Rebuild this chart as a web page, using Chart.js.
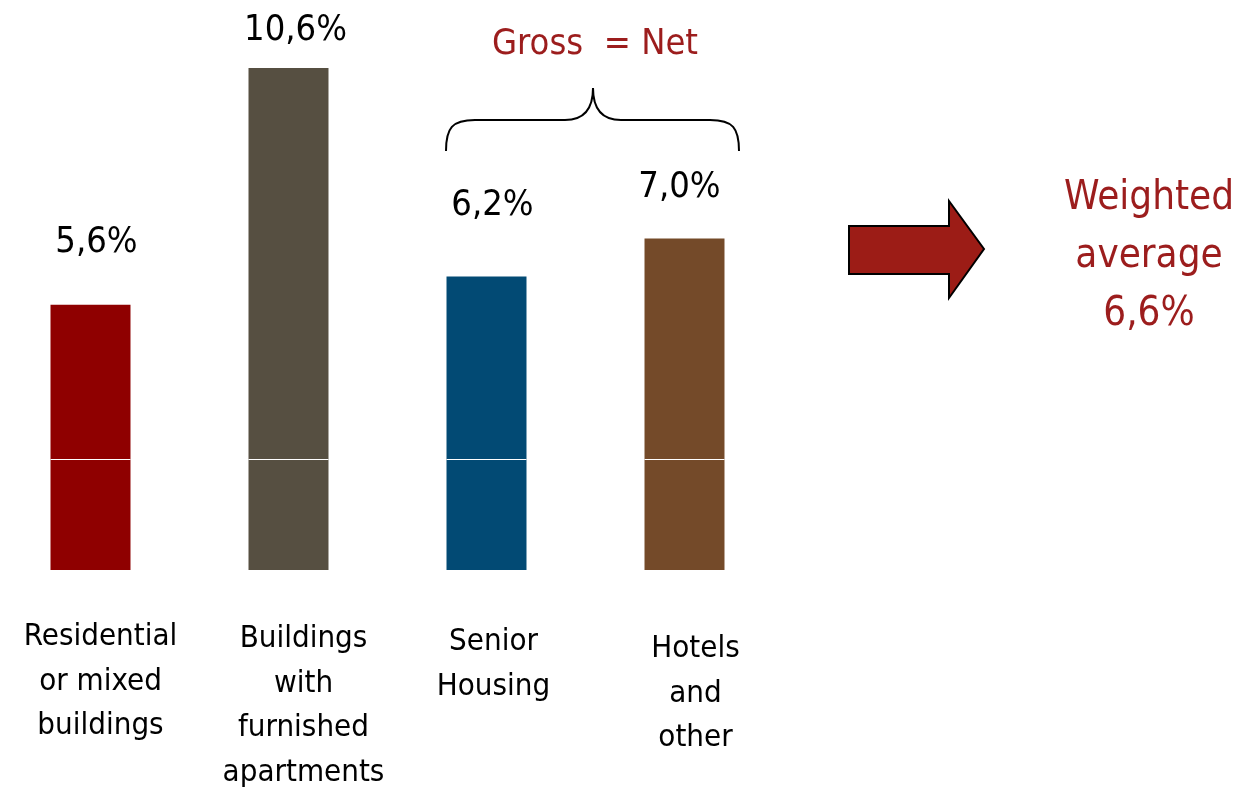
<!DOCTYPE html>
<html>
<head>
<meta charset="utf-8">
<script src="https://cdn.jsdelivr.net/npm/chart.js"></script>
<style>
  html, body { margin: 0; padding: 0; background: #fff; }
  #wrap { position: relative; width: 1249px; height: 790px; }
</style>
</head>
<body>
<div id="wrap"><canvas id="returnsChart"></canvas></div>
<script>
// categories and values
const categories = [
    ['Residential', 'or mixed', 'buildings'],
    ['Buildings', 'with', 'furnished', 'apartments'],
    ['Senior', 'Housing'],
    ['Hotels', 'and', 'other']
];
const yields = [5.6, 10.6, 6.2, 7.0];
const barColors = ['#8f0000', '#564f41', '#024a74', '#744a29'];
const averageLines = ['Weighted', 'average', '6,6%'];
const bracketText = 'Gross  = Net';
const breakValue = 2.35;

const RED = '#9c1d1d';
const FONT = '"DejaVu Sans Condensed", "DejaVu Sans"';
const fmt = v => v.toFixed(1).replace('.', ',') + '%';

// value labels, category names and the white break line on the bars
const barExtras = {
    id: 'barExtras',
    afterDatasetsDraw(chart, args, opts) {
        const ctx = chart.ctx;
        const meta = chart.getDatasetMeta(0);
        const yScale = chart.scales.y;
        const yb = Math.round(yScale.getPixelForValue(breakValue));
        const base = yScale.getPixelForValue(0);
        ctx.save();
        ctx.textAlign = 'center';
        meta.data.forEach((bar, i) => {
            const w = bar.width;
            ctx.fillStyle = '#fff';
            ctx.fillRect(bar.x - w / 2, yb, w, 1);

            ctx.fillStyle = '#000';
            ctx.font = '36px ' + FONT;
            ctx.textBaseline = 'middle';
            ctx.fillText(fmt(yields[i]), bar.x + opts.dx[i], bar.y - opts.lift[i]);

            ctx.font = '31px ' + FONT;
            ctx.textBaseline = 'alphabetic';
            categories[i].forEach((line, j) => {
                ctx.fillText(line, bar.x + opts.catDx[i], base + opts.catDrop[i] + j * 44.5);
            });
        });
        ctx.restore();
    }
};

// brace, arrow and the weighted average note
const annotations = {
    id: 'annotations',
    afterDraw(chart) {
        const ctx = chart.ctx;
        ctx.save();
        // brace over the last two bars
        ctx.strokeStyle = '#000';
        ctx.lineWidth = 2;
        ctx.beginPath();
        ctx.moveTo(446, 151);
        ctx.bezierCurveTo(446, 128, 452, 120, 475, 120);
        ctx.lineTo(565, 120);
        ctx.bezierCurveTo(585, 120, 593, 108, 593, 88);
        ctx.bezierCurveTo(593, 108, 601, 120, 621, 120);
        ctx.lineTo(710, 120);
        ctx.bezierCurveTo(733, 120, 739, 128, 739, 151);
        ctx.stroke();

        ctx.fillStyle = RED;
        ctx.font = '36px ' + FONT;
        ctx.textAlign = 'center';
        ctx.textBaseline = 'middle';
        ctx.fillText(bracketText, 595, 45);

        // arrow
        ctx.beginPath();
        ctx.moveTo(849, 226);
        ctx.lineTo(949, 226);
        ctx.lineTo(949, 201);
        ctx.lineTo(984, 249);
        ctx.lineTo(949, 298);
        ctx.lineTo(949, 274);
        ctx.lineTo(849, 274);
        ctx.closePath();
        ctx.fillStyle = '#9c1c16';
        ctx.fill();
        ctx.strokeStyle = '#000';
        ctx.lineWidth = 2;
        ctx.stroke();

        ctx.fillStyle = RED;
        ctx.font = '40px ' + FONT;
        averageLines.forEach((t, i) => {
            ctx.fillText(t, 1149, 199 + i * 58);
        });
        ctx.restore();
    }
};

const ctx = document.getElementById('returnsChart').getContext('2d');
const returnsChart = new Chart(ctx, {
    type: 'bar',
    data: {
        labels: categories,
        datasets: [{
            data: yields,
            backgroundColor: barColors,
            borderWidth: 0,
            categoryPercentage: 1,
            barPercentage: 0.404,
            clip: false
        }]
    },
    options: {
        responsive: true,
        maintainAspectRatio: false,
        animation: false,
        layout: {
            padding: { left: 90.5, right: 564.5, top: 68, bottom: 220 }
        },
        plugins: {
            legend: { display: false },
            tooltip: { enabled: false },
            barExtras: {
                lift: [62, 37, 70.5, 50.5],
                dx: [6, 7, 6, -5],
                catDx: [10, 15, 7, 11],
                catDrop: [75, 77, 80, 87]
            }
        },
        scales: {
            x: {
                display: false,
                offset: false
            },
            y: {
                display: false,
                min: 0,
                max: 10.6
            }
        }
    },
    plugins: [barExtras, annotations]
});
</script>
</body>
</html>
